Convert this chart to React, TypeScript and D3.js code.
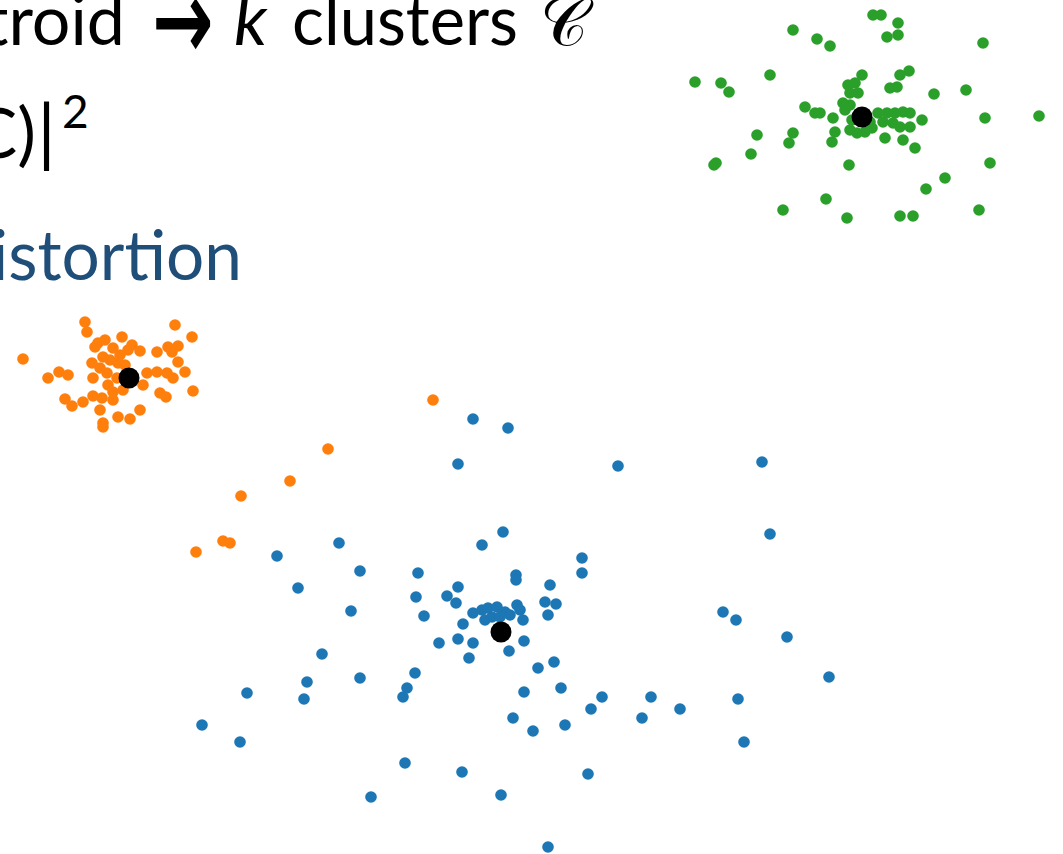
import React from "react";
import * as d3 from "d3";

const W = 1063;
const H = 854;

// cluster points [x, y] in data units
const blueX = [4.73,5.08,4.58,6.18,7.62,7.70,5.03,4.82,3.39,2.77,3.60,2.98,4.18,4.16,4.58,4.47,4.56,3.51,4.24,4.63,5.16,5.16,5.82,5.82,5.50,5.45,5.56,5.48,
  4.73,4.82,4.88,4.97,5.05,5.10,5.17,5.20,5.23,4.85,4.92,5.00,
  4.39,4.58,4.73,4.69,5.24,5.09,5.54,5.38,7.23,7.36,7.87,
  3.22,3.60,4.15,4.07,4.03,3.07,3.04,2.47,2.02,2.40,5.13,4.05,4.62,3.71,5.01,
  5.24,5.61,6.02,5.91,5.33,5.65,6.51,6.80,6.42,7.38,7.44,8.29,5.88,5.48];
const blueY = [4.35,4.26,3.90,3.88,3.92,3.20,3.22,3.09,3.11,2.98,2.83,2.66,2.81,2.57,2.67,2.58,2.51,2.43,2.38,2.30,2.79,2.74,2.96,2.81,2.69,2.52,2.50,2.39,
  2.41,2.44,2.46,2.47,2.42,2.39,2.49,2.44,2.34,2.34,2.37,2.37,
  2.11,2.15,2.11,1.96,2.13,2.03,1.92,1.86,2.42,2.34,2.17,
  2.00,1.76,1.81,1.66,1.57,1.72,1.55,1.61,1.29,1.12,1.36,0.91,0.82,0.57,0.59,
  1.62,1.66,1.57,1.45,1.23,1.29,1.57,1.45,1.36,1.55,1.12,1.77,0.80,0.07];

const orangeX = [0.85,0.87,1.75,1.92,0.23,1.22,0.98,0.95,1.13,1.32,1.40,1.57,1.68,1.78,1.72,1.78,1.85,1.93,0.92,1.03,1.10,1.18,0.48,0.59,0.68,0.93,1.07,1.17,1.08,1.47,1.57,1.67,1.73,1.43,1.23,1.60,1.66,0.65,0.72,0.83,0.93,1.02,1.13,1.00,1.40,1.18,1.30,1.03,1.03,
  1.20,1.25,1.00,1.13,1.28,1.05,
  4.33,3.28,2.90,2.41,2.23,2.30,1.96];
const orangeY = [5.32,5.22,5.29,5.17,4.95,5.17,5.11,5.07,5.06,5.09,5.03,5.02,5.07,5.08,5.02,4.92,4.82,4.63,4.91,4.97,4.94,4.91,4.76,4.82,4.79,4.76,4.81,4.76,4.69,4.81,4.82,4.81,4.76,4.69,4.64,4.61,4.57,4.55,4.48,4.52,4.58,4.56,4.54,4.44,4.44,4.37,4.35,4.31,4.27,
  4.99,4.89,4.86,4.62,5.04,5.14,
  4.54,4.05,3.73,3.58,3.13,3.11,3.02];

const greenX = [8.73,8.81,8.98,8.87,8.98,7.93,8.17,8.30,9.83,6.95,7.21,7.29,7.70,8.62,9.00,9.09,8.48,8.55,8.90,8.97,8.50,8.58,8.43,8.50,9.34,9.66,8.05,8.15,8.20,8.33,8.45,8.78,8.87,8.95,9.03,9.10,8.83,8.93,9.00,9.10,9.22,8.50,8.57,8.65,8.72,8.35,8.32,8.85,9.03,9.15,9.85,10.39,7.93,7.89,7.57,7.51,7.16,7.14,8.49,9.90,9.45,9.26,8.26,7.83,8.47,9.00,9.13,9.79,8.52,8.70];
const greenY = [8.39,8.39,8.31,8.17,8.19,8.24,8.15,8.08,8.11,7.72,7.71,7.62,7.79,7.79,7.79,7.83,7.69,7.71,7.66,7.67,7.61,7.61,7.51,7.49,7.60,7.64,7.47,7.41,7.41,7.36,7.44,7.41,7.41,7.41,7.42,7.41,7.32,7.31,7.27,7.27,7.34,7.24,7.21,7.22,7.26,7.22,7.12,7.16,7.14,7.06,7.36,7.38,7.21,7.11,7.19,7.00,6.91,6.89,6.89,6.91,6.76,6.65,6.55,6.44,6.36,6.38,6.38,6.44,7.34,7.32];

const centroidX = [5.01, 1.29, 8.62];
const centroidY = [2.22, 4.76, 7.37];

const clusterColors = ["#1f77b4", "#ff7f0e", "#2ca02c"];
const clusters = [
  { xs: blueX, ys: blueY },
  { xs: orangeX, ys: orangeY },
  { xs: greenX, ys: greenY },
];

export default function App() {
  const x = d3.scaleLinear().domain([0, 10.63]).range([0, W]);
  const y = d3.scaleLinear().domain([0, 8.54]).range([H, 0]);
  const font = "Lato, 'Open Sans', sans-serif";
  return (
    <svg
      width={W}
      height={H}
      style={{ position: "absolute", left: 0, top: 0, background: "#fff" }}
    >
      <defs>
        <filter id="soft" x="-20%" y="-20%" width="140%" height="140%">
          <feGaussianBlur stdDeviation="0.5" />
        </filter>
      </defs>
      <g fontFamily={font} fill="#000">
        <text x={-16} y={45} fontSize={70} textLength={141} lengthAdjust="spacingAndGlyphs">troid</text>
        <text x={153} y={59} fontSize={112} fontFamily="'DejaVu Sans'" textLength={60} lengthAdjust="spacingAndGlyphs" stroke="#000" strokeWidth={2.2}>→</text>
        <text x={234} y={45} fontSize={70} fontStyle="italic">k</text>
        <text x={292} y={45} fontSize={70} textLength={226} lengthAdjust="spacingAndGlyphs">clusters</text>
        <text x={540} y={45} fontSize={66} fontFamily="'DejaVu Serif', 'DejaVu Sans'">𝒞</text>
        <text x={36} y={158} fontSize={70} textAnchor="end">C)</text>
        <text x={46.5} y={158} fontSize={74} textAnchor="middle">|</text>
        <text x={62} y={128} fontSize={46}>2</text>
        <text x={-8} y={280} fontSize={70} fill="#1F4E79" textLength={250} lengthAdjust="spacingAndGlyphs">istortion</text>
      </g>
      <g filter="url(#soft)">
        {clusters.map((c, ci) => (
          <g key={ci} fill={clusterColors[ci]}>
            {c.xs.map((v, i) => (
              <circle key={i} cx={x(v)} cy={y(c.ys[i])} r={5.8} />
            ))}
          </g>
        ))}
        <g fill="#000">
          {centroidX.map((v, i) => (
            <circle key={i} cx={x(v)} cy={y(centroidY[i])} r={10.5} />
          ))}
        </g>
      </g>
    </svg>
  );
}
